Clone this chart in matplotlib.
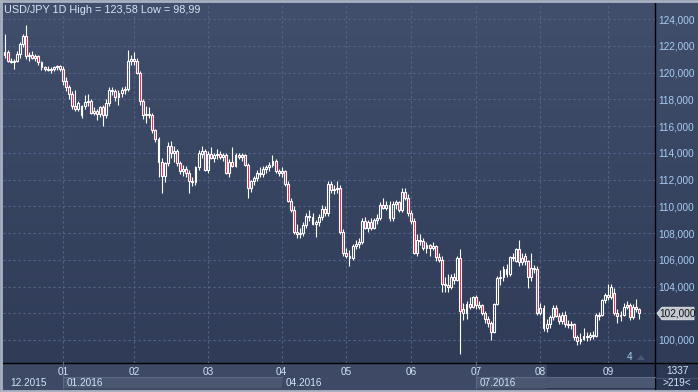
import matplotlib
matplotlib.use("Agg")
import matplotlib.pyplot as plt
import numpy as np
from matplotlib.patches import Rectangle, Polygon
from matplotlib.lines import Line2D
from matplotlib import transforms
from matplotlib.colors import LinearSegmentedColormap

plt.rcParams['font.family'] = ['Liberation Sans', 'DejaVu Sans']

# ---------------- data ----------------
opens = [121.3, 121.5, 120.9, 120.8, 120.9, 121.4, 122.1, 122.7, 121.2, 121.3,
         121.1, 121.2, 120.8, 120.4, 120.3, 120.2, 120.3, 120.4, 120.5, 120.3,
         119.4, 118.9, 118.4, 117.5, 117.3, 116.8, 117.5, 117.8, 117.9, 117.0,
         117.1, 116.9, 117.4, 116.8, 117.7, 118.7, 118.6, 118.2, 118.5, 118.7,
         118.8, 120.9, 121.0, 120.9, 120.0, 117.9, 116.8, 116.9, 116.8, 115.7,
         115.0, 113.3, 112.3, 113.2, 114.5, 114.0, 114.1, 113.2, 112.6, 112.8,
         112.5, 111.9, 111.8, 112.9, 113.9, 114.1, 112.7, 113.9, 113.6, 113.8,
         113.9, 113.7, 113.8, 112.5, 113.3, 113.0, 113.8, 113.7, 113.8, 113.1,
         111.4, 111.9, 112.1, 112.5, 112.4, 112.8, 112.9, 113.1, 113.4, 112.6,
         112.5, 112.6, 111.7, 110.4, 109.7, 108.1, 107.9, 108.0, 108.6, 109.3,
         109.2, 108.7, 108.8, 109.2, 109.8, 109.5, 111.7, 111.2, 111.3, 111.4,
         108.1, 106.5, 106.3, 106.1, 107.0, 107.2, 107.3, 108.9, 108.4, 108.8,
         108.4, 109.0, 109.1, 110.1, 109.9, 110.1, 109.1, 110.2, 110.3, 109.7,
         111.1, 110.6, 109.5, 108.9, 106.5, 107.5, 107.4, 106.9, 107.1, 106.9,
         107.0, 106.2, 106.0, 104.2, 104.1, 104.0, 104.7, 104.5, 106.1, 102.3,
         102.0, 102.7, 102.5, 103.2, 102.5, 102.6, 102.0, 101.6, 101.3, 100.6,
         102.7, 104.6, 104.7, 105.3, 104.9, 106.2, 105.9, 106.8, 105.8, 106.3,
         105.9, 104.7, 105.4, 105.3, 102.0, 102.4, 100.9, 101.2, 101.7, 102.4,
         101.8, 101.4, 101.9, 101.2, 101.1, 101.2, 100.2, 99.9, 100.1, 100.3,
         100.2, 100.4, 100.3, 101.8, 101.9, 103.0, 103.4, 103.2, 103.5, 102.0,
         101.8, 101.9, 102.5, 102.6, 101.7, 102.5, 102.3]
highs = [122.9, 121.7, 121.1, 121.0, 121.6, 122.3, 122.9, 123.58, 121.5, 121.6,
         121.4, 121.3, 120.9, 120.5, 120.5, 120.4, 120.5, 120.6, 120.6, 120.5,
         119.7, 119.1, 118.6, 118.7, 117.9, 117.6, 118.3, 118.4, 118.0, 117.4,
         117.3, 117.5, 117.6, 118.0, 118.9, 118.9, 118.8, 118.7, 118.9, 119.0,
         121.7, 121.3, 121.5, 121.1, 120.1, 118.0, 117.5, 117.4, 117.0, 115.8,
         115.2, 113.6, 113.3, 114.8, 114.9, 114.5, 114.3, 113.4, 113.1, 113.0,
         112.7, 112.2, 113.0, 114.2, 114.5, 114.3, 114.1, 114.4, 114.0, 114.3,
         114.1, 114.0, 114.0, 113.5, 114.45, 114.0, 114.0, 114.0, 113.9, 113.2,
         112.0, 112.3, 112.7, 112.9, 113.0, 113.1, 113.3, 113.8, 113.5, 112.8,
         112.9, 112.7, 111.9, 110.6, 110.0, 108.7, 108.4, 108.8, 109.5, 109.7,
         109.5, 109.0, 109.4, 110.1, 110.0, 111.9, 111.9, 111.6, 111.9, 111.6,
         108.3, 106.9, 106.7, 107.2, 107.5, 107.6, 109.1, 109.2, 109.0, 109.1,
         109.1, 109.4, 110.3, 110.6, 110.4, 110.4, 110.4, 110.5, 110.4, 111.4,
         111.4, 110.9, 109.7, 109.1, 107.9, 107.9, 107.6, 107.3, 107.2, 107.3,
         107.1, 106.5, 106.3, 104.7, 104.9, 104.9, 105.0, 106.3, 106.8, 102.8,
         102.9, 103.2, 103.3, 103.4, 102.9, 102.7, 102.2, 101.8, 101.4, 102.8,
         104.8, 105.2, 105.5, 105.7, 106.3, 106.5, 106.9, 107.5, 106.5, 106.5,
         106.0, 106.5, 105.6, 105.5, 102.8, 102.6, 101.6, 101.9, 102.6, 102.6,
         102.0, 102.1, 102.2, 101.5, 101.4, 101.3, 100.4, 100.5, 100.9, 100.6,
         100.6, 100.7, 102.0, 102.1, 103.1, 103.5, 104.2, 104.2, 103.9, 102.3,
         102.2, 102.8, 102.9, 102.8, 102.7, 103.1, 102.4]
lows = [121.1, 120.8, 120.7, 120.3, 120.8, 121.1, 121.9, 121.0, 120.9, 121.0,
        120.9, 120.6, 120.2, 120.1, 120.1, 120.0, 120.1, 120.2, 120.1, 119.1,
        118.6, 118.0, 117.3, 117.1, 117.1, 116.6, 117.3, 117.5, 116.9, 116.8,
        116.45, 116.7, 115.98, 116.6, 117.5, 118.3, 117.9, 117.6, 118.2, 118.4,
        118.6, 120.6, 120.6, 119.9, 117.6, 116.5, 116.2, 116.6, 115.5, 114.8,
        112.2, 110.99, 111.8, 113.0, 113.6, 113.3, 113.0, 112.4, 112.3, 112.2,
        111.0, 111.5, 111.6, 112.7, 113.6, 112.6, 112.5, 113.5, 113.3, 113.5,
        113.5, 113.4, 112.4, 112.2, 112.9, 112.9, 113.5, 113.4, 113.0, 110.6,
        111.1, 111.6, 111.9, 112.2, 112.2, 112.5, 112.6, 112.9, 112.5, 112.3,
        112.2, 111.5, 110.3, 109.6, 107.9, 107.6, 107.6, 107.8, 108.4, 108.9,
        108.6, 107.7, 108.5, 109.0, 109.3, 109.3, 111.0, 110.9, 111.0, 107.9,
        106.3, 106.1, 105.5, 106.0, 106.8, 106.9, 107.2, 108.3, 108.1, 108.2,
        108.3, 108.7, 109.0, 109.8, 109.7, 108.9, 108.9, 109.8, 109.6, 109.6,
        110.5, 109.3, 108.7, 106.4, 106.3, 107.1, 106.7, 106.5, 106.3, 106.7,
        105.9, 105.8, 103.6, 103.6, 103.6, 103.8, 104.2, 104.4, 98.99, 101.5,
        101.6, 102.3, 102.4, 102.3, 102.3, 101.9, 101.3, 101.0, 99.98, 100.5,
        102.6, 104.1, 104.4, 104.7, 104.8, 105.9, 105.8, 105.5, 105.6, 105.6,
        103.9, 104.4, 105.0, 101.9, 101.9, 100.7, 100.6, 100.9, 101.5, 101.7,
        101.2, 101.2, 101.0, 100.9, 100.8, 100.0, 99.6, 99.7, 100.0, 99.9,
        100.0, 100.1, 100.2, 101.5, 101.8, 102.8, 103.0, 103.1, 101.9, 101.3,
        101.4, 101.8, 102.3, 101.5, 101.6, 102.1, 101.6]
closes = [121.5, 120.9, 120.8, 120.9, 121.4, 122.1, 122.7, 121.2, 121.3, 121.1,
          121.2, 120.8, 120.4, 120.3, 120.2, 120.3, 120.4, 120.5, 120.3, 119.4,
          118.9, 118.4, 117.5, 117.3, 117.7, 117.5, 117.8, 117.9, 117.0, 117.1,
          116.9, 117.4, 116.8, 117.7, 118.7, 118.6, 118.2, 118.5, 118.7, 118.8,
          120.9, 121.0, 120.9, 120.0, 117.9, 116.8, 116.9, 116.8, 115.7, 115.0,
          113.3, 112.3, 113.2, 114.5, 114.0, 114.1, 113.2, 112.6, 112.8, 112.5,
          111.9, 111.8, 112.9, 114.0, 114.1, 112.7, 113.9, 113.6, 113.8, 113.9,
          113.7, 113.8, 112.5, 113.3, 113.0, 113.8, 113.7, 113.8, 113.1, 111.4,
          111.9, 112.1, 112.5, 112.4, 112.8, 112.9, 113.1, 113.4, 112.6, 112.5,
          112.6, 111.7, 110.4, 109.7, 108.1, 107.9, 108.0, 108.6, 109.3, 109.2,
          108.7, 108.8, 109.2, 109.8, 109.5, 111.7, 111.2, 111.3, 111.4, 108.1,
          106.5, 106.3, 106.1, 107.0, 107.2, 107.3, 108.9, 108.4, 108.8, 108.4,
          109.0, 109.1, 110.1, 109.9, 110.1, 109.1, 110.2, 110.3, 109.7, 111.1,
          110.6, 109.5, 108.9, 106.5, 107.5, 107.4, 106.9, 107.1, 106.9, 107.0,
          106.2, 106.0, 104.2, 104.1, 104.0, 104.7, 104.5, 106.1, 102.2, 102.0,
          102.7, 102.5, 103.2, 102.6, 102.6, 102.0, 101.6, 101.3, 100.6, 102.7,
          104.6, 104.7, 105.3, 104.9, 106.2, 106.1, 106.8, 105.8, 106.1, 105.9,
          104.7, 105.4, 105.3, 102.0, 102.4, 100.9, 101.2, 101.7, 102.4, 101.8,
          101.4, 101.9, 101.2, 101.1, 101.2, 100.2, 99.9, 100.1, 100.3, 100.2,
          100.4, 100.3, 101.9, 101.9, 103.0, 103.4, 103.2, 104.0, 102.0, 101.8,
          101.9, 102.5, 102.6, 101.7, 102.5, 102.3, 102.0]

month_labels = ["01", "02", "03", "04", "05", "06", "07", "08", "09"]
month_start = [19, 42, 66, 90, 111, 132, 153, 174, 196]
period_labels = ["12.2015", "01.2016", "04.2016", "07.2016"]
period_start = [0, 19, 90, 153]
price_ticks = [100, 102, 104, 106, 108, 110, 112, 114, 116, 118, 120, 122, 124]
title = "USD/JPY 1D High = 123,58 Low = 98,99"
bar_count_label = "1337"
visible_label = ">219<"
marker_label = "4"

# ---------------- figure ----------------
W, H = 698, 392
fig = plt.figure(figsize=(W / 100, H / 100), dpi=100)

# full-figure background
bg = fig.add_axes([0, 0, 1, 1], zorder=0)
bg.set_xlim(0, W)
bg.set_ylim(H, 0)
bg.axis('off')
grad_cmap = LinearSegmentedColormap.from_list('g', ['#414f6c', '#2f3b57'])
bg.imshow(np.linspace(0, 1, 256).reshape(-1, 1), cmap=grad_cmap, aspect='auto',
          extent=[0, W, 363, 0], zorder=0)

# time-axis strip
bg.add_patch(Rectangle((0, 363), W, 29, facecolor='#3e4a65', edgecolor='none', zorder=1))

# main axes
L, R, T, B = 3, 655, 3, 363
ax = fig.add_axes([L / W, 1 - B / H, (R - L) / W, (B - T) / H], zorder=2)
ax.set_facecolor('none')
x = np.arange(len(closes))
xmin, xmax = -0.49, 211.2
ax.set_xlim(xmin, xmax)
ax.set_ylim(98.28, 125.2)

for s in ax.spines.values():
    s.set_visible(False)

# grid
for p in price_ticks:
    ax.axhline(p, color='#55658a', lw=0.8, dashes=(2, 2.5), zorder=1)
for m in month_start:
    ax.axvline(m, color='#55658a', lw=0.8, dashes=(2, 2.5), zorder=1)

# candles
o = np.array(opens); h = np.array(highs); l = np.array(lows); c = np.array(closes)
top = np.maximum(o, c); bot = np.minimum(o, c)
ax.vlines(x, top, h, color='white', lw=0.8, zorder=3)
ax.vlines(x, l, bot, color='white', lw=0.8, zorder=3)
heights = np.maximum(top - bot, 0.04)
up = c >= o
ax.bar(x[up], heights[up], bottom=bot[up], width=0.62, facecolor='none',
       edgecolor='white', linewidth=0.8, zorder=4)
ax.bar(x[~up], heights[~up], bottom=bot[~up], width=0.62, facecolor='#e5173f',
       edgecolor='white', linewidth=0.8, zorder=4)

# y axis on right (the last-price tag replaces the label it covers)
last = closes[-1]
ax.yaxis.tick_right()
ax.set_yticks(price_ticks)
ax.set_yticklabels(["" if abs(p - last) < 1 else f"{p:.3f}".replace('.', ',')
                    for p in price_ticks])
ax.tick_params(axis='y', length=0, pad=2.5, labelsize=7.2, labelcolor='#a8cdf2')

# x axis month labels
ax.set_xticks(month_start)
ax.set_xticklabels(month_labels)
ax.tick_params(axis='x', length=0, pad=3.0, labelsize=7.2, labelcolor='#d2e4f6')

# period row backgrounds and labels
blend = transforms.blended_transform_factory(ax.transData, fig.transFigure)
edges = period_start[1:] + [xmax]
starts = [xmin] + period_start[1:]
for k, (a, b) in enumerate(zip(starts, edges)):
    col = '#4b5771' if k % 2 == 1 else '#3e4a65'
    ax.add_patch(Rectangle((a, 1 - 388 / H), b - a, 11 / H, transform=blend,
                           facecolor=col, edgecolor='none', clip_on=False, zorder=0))
    if k % 2 == 1:
        ax.add_line(Line2D([a, b], [1 - 377 / H] * 2, transform=blend, color='#5d6a85',
                           lw=0.8, clip_on=False))
        ax.add_line(Line2D([a, a], [1 - 388 / H, 1 - 363 / H], transform=blend,
                           color='#5d6a85', lw=0.8, clip_on=False))
for k, (lab, st) in enumerate(zip(period_labels, period_start)):
    ax.annotate(lab, xy=(st if k else xmin, 0), xycoords=('data', 'axes fraction'),
                xytext=(7 if k == 0 else 4, -20), textcoords='offset pixels',
                ha='left', va='center', fontsize=7.2, color='#d2e4f6',
                annotation_clip=False)

# dark navigator overlay
bg.add_patch(Rectangle((547, 364), 108, 25, facecolor='#2c3853', edgecolor='none', zorder=3))
# bottom right box
bg.add_patch(Rectangle((655, 363), 43, 29, facecolor='#2c3853', edgecolor='none', zorder=3))
bg.add_line(Line2D([655, 698], [377.5, 377.5], color='#45526d', lw=0.8, zorder=4))
bg.text(677, 370.5, bar_count_label, ha='center', va='center', fontsize=7.2,
        color='#d2e4f6', zorder=5)
bg.text(677, 383, visible_label, ha='center', va='center', fontsize=7.2,
        color='#d2e4f6', zorder=5)

# frame lines
bg.add_line(Line2D([655, 655], [3, 392], color='black', lw=1.0, zorder=6))
bg.add_line(Line2D([3, 698], [363, 363], color='black', lw=1.0, zorder=6))
bg.add_line(Line2D([0, W], [1, 1], color='#aab2c2', lw=2.0, zorder=6))
bg.add_line(Line2D([1, 1], [0, H], color='#aab2c2', lw=2.0, zorder=6))
bg.add_line(Line2D([0, W], [390.5, 390.5], color='#aab2c2', lw=2.0, zorder=6))

# title
fig.text(4 / W, 1 - 10 / H, title, ha='left', va='center', fontsize=7.8,
         color='#d6e4f4', zorder=10)

# last price tag
ty = ax.transData.transform((0, last))[1]
typ = H - ty
bg.add_patch(Polygon([[657, typ], [662, typ - 6], [694, typ - 6], [694, typ + 6.5],
                      [662, typ + 6.5]], closed=True, facecolor='#c3c8d0',
                     edgecolor='#e6e8ec', lw=0.6, zorder=7))
bg.text(678, typ + 0.3, f"{last:.3f}".replace('.', ','), ha='center', va='center',
        fontsize=7.2, color='#111111', zorder=8)

# marker count
bg.text(630, 357, marker_label, ha='center', va='center', fontsize=7.2,
        color='#a8cdf2', zorder=8)
bg.add_patch(Polygon([[637, 360], [641, 355], [645, 360]], closed=True,
                     facecolor='#4a5878', edgecolor='none', zorder=8))

fig.savefig('out.png', dpi=100)
